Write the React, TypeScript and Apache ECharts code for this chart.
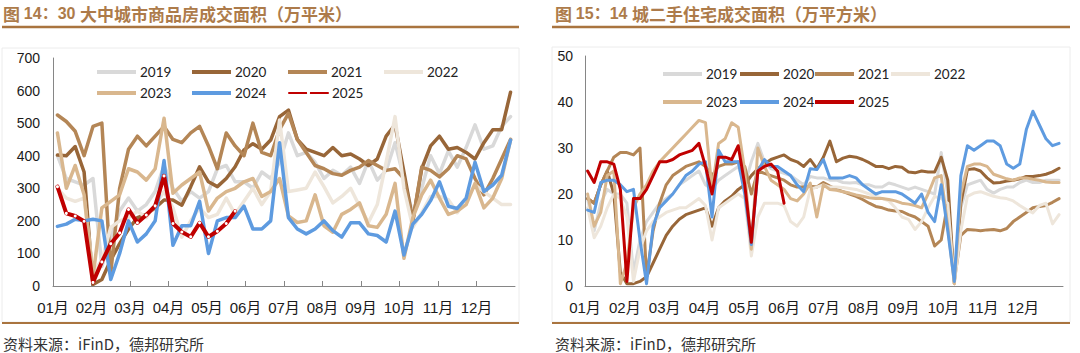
import React, { useEffect, useRef } from 'react';
import * as echarts from 'echarts';

// ---------- shared labels ----------
const MONTHS = ['01月', '02月', '03月', '04月', '05月', '06月', '07月', '08月', '09月', '10月', '11月', '12月'];
const YEARS = ['2019', '2020', '2021', '2022', '2023', '2024', '2025'];
const COLORS = ['#D9D9D9', '#986638', '#B48656', '#EEE6DB', '#D9B78E', '#5E9BE0', '#C00000'];

// ---------- left chart: 30 大中城市商品房成交面积（万平米），weekly ----------
const LEFT_TITLE = ['图 ', '14：30 ', '大中城市商品房成交面积（万平米）'];
const LEFT_Y_TICKS = [0, 700, 100];
const L2019 = [400, 330, 320, 310, 330, 60, 150, 230, 270, 230, 250, 290, 370, 300, 260, 290, 270, 290, 360, 370, 320, 320, 300, 350,
  330, 380, 470, 400, 410, 380, 330, 355, 340, 365, 315, 385, 325, 355, 440, 330, 220, 300, 400, 345, 415, 365, 425, 495, 420, 430, 490, 520];
const L2020 = [402, 400, 428, 350, 5, 20, 80, 130, 175, 210, 220, 240, 264, 264, 248, 305, 366, 320, 305, 330, 366, 418, 437, 420,
  448, 520, 540, 450, 420, 410, 400, 425, 400, 405, 390, 370, 390, 460, 495, 350, 200, 360, 430, 460, 420, 425, 410, 390, 440, 480, 480, 595];
const L2021 = [525, 505, 475, 400, 490, 500, 40, 300, 420, 460, 430, 460, 490, 450, 440, 470, 490, 430, 360, 470, 430, 400, 500, 410,
  400, 480, 530, 450, 410, 370, 360, 345, 340, 355, 365, 385, 370, 355, 360, 330, 200, 365, 355, 335, 360, 400, 390, 330, 280, 330, 390, 450];
const L2022 = [300, 270, 260, 270, 40, 80, 180, 200, 210, 230, 210, 250, 290, 240, 150, 200, 240, 210, 220, 270, 220, 260, 300, 250,
  290, 510, 290, 295, 300, 350, 305, 255, 275, 300, 245, 195, 250, 380, 520, 300, 180, 225, 275, 275, 265, 225, 265, 310, 290, 270, 250, 250];
const L2023 = [470, 300, 370, 280, 30, 240, 260, 280, 360, 350, 325, 360, 515, 285, 310, 330, 350, 230, 270, 290, 300, 320, 330, 275,
  290, 330, 215, 195, 200, 280, 185, 165, 220, 235, 255, 185, 180, 220, 315, 85, 210, 280, 325, 270, 220, 230, 250, 315, 240, 270, 330, 448];
const L2024 = [183, 190, 205, 200, 205, 200, 20, 100, 200, 135, 160, 200, 385, 125, 185, 185, 260, 100, 200, 210, 210, 245, 175, 175,
  200, 440, 210, 175, 160, 175, 200, 170, 150, 194, 194, 160, 155, 135, 230, 95, 190, 220, 262, 320, 245, 238, 270, 380, 290, 310, 340, 448];
const L2025 = [305, 223, 215, 199, 11, 74, 130, 163, 235, 194, 218, 246, 338, 192, 166, 151, 194, 151, 168, 192, 230];
const LEFT_DATA = [L2019, L2020, L2021, L2022, L2023, L2024, L2025];
const LEFT_STEPS = 52; // weeks per year

// ---------- right chart: 14 城二手住宅成交面积（万平方米），5-day steps ----------
const RIGHT_TITLE = ['图 ', '15：14 ', '城二手住宅成交面积（万平方米）'];
const RIGHT_Y_TICKS = [0, 50, 10];
const R2019 = [19, 12, 18, 21, 20, 20, 18, 3, 10, 14, 16, 18, 19, 20, 22, 23, 24, 25, 22, 21, 23, 24, 25, 26, 22, 27, 31, 27, 25.5, 25,
  24.5, 24, 23, 22, 23.8, 23.5, 23.5, 23, 23, 22.5, 22.4, 22.5, 22, 22, 21.5, 21.5, 22.4, 22, 21.5, 21, 21.5, 21, 20.5, 20, 29, 20, 1, 17, 22, 22.5,
  23, 21, 20.2, 21, 21.5, 21.5, 22.5, 23, 22.5, 22.5, 23, 23, 23];
const R2020 = [19, 18, 22, 25, 20, 3, 0.5, 0.5, 1, 2, 5, 8, 11, 13, 14.5, 15.5, 16, 16.5, 17, 13, 17, 18.5, 19.5, 21, 22, 24, 25.5, 26.5, 27.5, 28,
  28.5, 27.5, 27, 26, 27.5, 25.5, 28, 31.5, 27, 27.8, 28.2, 28, 27.5, 26.8, 26, 26, 25.5, 26, 25.8, 24.8, 24.6, 25, 24.8, 24.8, 28, 23, 0.5, 18, 25.3, 25.5,
  25, 23.5, 22.4, 22.5, 22.8, 23, 23.3, 23.8, 23.8, 24, 24.3, 24.8, 25.6];
const R2021 = [19, 18, 22, 25, 28, 29, 29, 28.5, 30, 2, 12, 18, 22, 24, 25, 26, 26.5, 27, 26, 24, 26, 26.5, 26.5, 27, 26, 20, 25, 24.5, 24, 23.5,
  23, 22, 21.5, 21.5, 21.7, 21.5, 22.5, 21.7, 21, 20.5, 20, 19.5, 18.8, 18, 17.3, 17, 16.5, 16.3, 16.2, 15.5, 15, 14, 13, 8.7, 10, 18, 1, 11, 12.3, 12.2,
  12, 12.2, 12.3, 12, 12.5, 14, 15, 16, 17, 17.3, 17.5, 18.2, 19];
const R2022 = [17, 10.5, 13, 17, 20, 19, 15, 1, 8, 12, 14, 15, 16, 16.5, 17, 17, 18, 19, 17.5, 10, 17, 18, 19, 20, 19, 6.5, 15, 18, 18, 18,
  17.5, 14, 13, 15, 21, 21.5, 22, 21.5, 21.5, 21.4, 21.2, 21, 20.5, 20, 19.6, 19, 18.5, 17, 15, 14.5, 12.3, 14, 17, 19.5, 19, 18, 0.5, 12, 19.5, 20.2,
  20.5, 20, 19.5, 19.2, 19, 18.5, 17.5, 16.6, 15.9, 17.5, 18, 13.5, 15.5];
const R2023 = [20, 13, 16, 24, 25, 0.5, 5, 17, 20, 22, 25, 27, 28.5, 30, 31.5, 33, 34.5, 36, 35.5, 21, 31, 32, 35.5, 34.5, 25, 8, 30, 26, 23, 22,
  21, 19, 18.5, 20, 22.4, 15, 22, 21, 20.8, 20.5, 20.2, 19.8, 19.5, 19.2, 19, 19, 18.8, 18.5, 18, 17.8, 17.5, 17, 20, 23.5, 24, 13, 0.5, 20, 26, 26.5,
  26.5, 26, 24.3, 23.8, 23.3, 23, 23.5, 23.5, 23.2, 23, 22.6, 22.5, 22.5];
const R2024 = [16.5, 16, 22.5, 23, 23, 22, 20.5, 21, 10, 0.5, 13, 17, 18.5, 20, 22, 24, 25, 26.5, 27, 15, 29.5, 27, 27, 27, 20, 9, 25, 27.5, 26, 26,
  25, 24, 22, 20.5, 25.5, 25.3, 27.5, 23.5, 23.5, 23.5, 24, 23.5, 22, 21, 20, 20.5, 20.5, 20.5, 20, 19, 18, 20, 16, 14, 22, 12, 1, 24, 30.5, 29.5,
  30.5, 31.5, 31.5, 30.5, 26.5, 25.6, 26.5, 34, 38, 35, 32, 30.5, 31];
const R2025 = [25, 22.5, 27, 27, 26.5, 21, 1, 19, 19, 21, 24, 27, 27, 27.5, 28.5, 29, 29.5, 31, 26, 20, 28, 28, 27.5, 30.5, 22, 9.5, 25, 26, 26.5, 25, 18];
const RIGHT_DATA = [R2019, R2020, R2021, R2022, R2023, R2024, R2025];
const RIGHT_STEP_DAYS = 5;

const SOURCE = '资料来源：iFinD，德邦研究所';

type Layout = {
  titleX: number;
  ruleX1: number;
  ruleX2: number;
  box: [number, number, number, number];
  grid: { left: number; top: number; width: number; height: number };
  legendX: number[];
  legendY: number[];
  lineWidth: number;
  xTicks: boolean;
  yLabelMargin: number;
};

const FONT_NUM = 'Liberation Sans, Arial, Noto Sans CJK SC, sans-serif';
const FONT_CJK = 'Noto Sans CJK SC, sans-serif';
const TITLE_COLOR = '#AD7B4A';
const RULE_COLOR = '#A9743F';

function buildOption(
  title: string[],
  yTicks: number[],
  seriesData: number[][],
  toX: (i: number) => number,
  layout: Layout,
  markerLast: boolean
): echarts.EChartsOption {
  const series: any[] = seriesData.map((arr, s) => {
    const isMarked = markerLast && s === seriesData.length - 1;
    return {
      type: 'line',
      name: YEARS[s],
      data: arr.map((v, i) => [toX(i), v]),
      symbol: isMarked ? 'circle' : 'none',
      symbolSize: 3,
      showSymbol: isMarked,
      lineStyle: { width: isMarked ? 4 : layout.lineWidth, color: COLORS[s], cap: 'round', join: 'round' },
      itemStyle: isMarked ? { color: '#FFFFFF', borderWidth: 0 } : { color: COLORS[s] },
      z: 2 + s,
      silent: true,
    };
  });

  const legends: any[] = YEARS.map((name, idx) => {
    const col = idx % 4;
    const row = Math.floor(idx / 4);
    const isMarked = markerLast && idx === YEARS.length - 1;
    return {
      data: [isMarked ? { name } : { name, icon: 'rect' }],
      left: layout.legendX[col],
      top: layout.legendY[row] - 8,
      itemWidth: 39,
      itemHeight: 4,
      padding: 0,
      selectedMode: false,
      textStyle: { fontFamily: 'Lato, Carlito, sans-serif', fontSize: 13.5, color: '#222222', padding: [0, 0, 0, -1] },
    };
  });

  const [bx, by, bw, bh] = layout.box;

  return {
    animation: false,
    title: {
      text: `{a|${title[0]}}{b|${title[1]}}{a|${title[2]}}`,
      left: layout.titleX,
      top: 3,
      padding: 0,
      textStyle: {
        rich: {
          a: { fontFamily: FONT_CJK, fontSize: 17, lineHeight: 20, color: TITLE_COLOR },
          b: { fontFamily: FONT_NUM, fontSize: 16, lineHeight: 20, fontWeight: 'bold', color: TITLE_COLOR },
        },
      },
    },
    legend: legends,
    grid: { ...layout.grid, containLabel: false },
    xAxis: {
      type: 'value',
      min: 0,
      max: 12,
      interval: 1,
      axisLine: { show: true, lineStyle: { color: '#868686', width: 1 } },
      axisTick: { show: layout.xTicks, inside: true, length: 5, lineStyle: { color: '#868686' } },
      splitLine: { show: false },
      axisLabel: {
        margin: 14,
        fontFamily: FONT_NUM,
        fontSize: 15,
        color: '#1A1A1A',
        showMaxLabel: false,
        formatter: (v: number) => (v < 12 ? MONTHS[Math.round(v)] : ''),
      },
    },
    yAxis: {
      type: 'value',
      min: yTicks[0],
      max: yTicks[1],
      interval: yTicks[2],
      axisLine: { show: true, lineStyle: { color: '#868686', width: 1 } },
      axisTick: { show: false },
      splitLine: { show: false },
      axisLabel: { margin: layout.yLabelMargin, fontFamily: FONT_NUM, fontSize: 14, color: '#1A1A1A' },
    },
    graphic: [
      {
        type: 'rect',
        shape: { x: bx, y: by, width: bw, height: bh },
        style: { fill: 'none', stroke: '#ECECEC', lineWidth: 1 },
        silent: true,
        z: -1,
      },
      {
        type: 'line',
        shape: { x1: layout.ruleX1, y1: 27, x2: layout.ruleX2, y2: 27 },
        style: { stroke: RULE_COLOR, lineWidth: 2.5 },
        silent: true,
      },
      {
        type: 'line',
        shape: { x1: layout.ruleX1, y1: 323, x2: layout.ruleX2, y2: 323 },
        style: { stroke: RULE_COLOR, lineWidth: 2 },
        silent: true,
      },
      {
        type: 'text',
        x: layout.titleX,
        y: 343,
        style: {
          text: SOURCE,
          fontFamily: FONT_CJK,
          fontSize: 15,
          fill: '#333333',
          verticalAlign: 'middle',
        },
        silent: true,
      },
    ],
    series,
  };
}

const LEFT_LAYOUT: Layout = {
  titleX: 3,
  ruleX1: 2,
  ruleX2: 519,
  box: [2, 48, 517, 274],
  grid: { left: 53, top: 58, width: 462, height: 228 },
  legendX: [97, 192, 288, 384],
  legendY: [73, 94],
  lineWidth: 3.5,
  xTicks: true,
  yLabelMargin: 13,
};

const RIGHT_LAYOUT: Layout = {
  titleX: 15,
  ruleX1: 12,
  ruleX2: 530,
  box: [12, 47, 518, 275],
  grid: { left: 45, top: 56, width: 478, height: 230 },
  legendX: [123, 200, 275, 351],
  legendY: [75, 103],
  lineWidth: 3,
  xTicks: false,
  yLabelMargin: 12,
};

function Chart({ option, left }: { option: echarts.EChartsOption; left: number }) {
  const ref = useRef<HTMLDivElement | null>(null);
  useEffect(() => {
    if (!ref.current) return;
    const chart = echarts.init(ref.current, undefined, { renderer: 'svg' });
    chart.setOption(option);
    return () => chart.dispose();
  }, [option]);
  return (
    <div
      ref={ref}
      style={{ position: 'absolute', left, top: 0, width: 540, height: 353, background: '#FFFFFF' }}
    />
  );
}

const leftOption = buildOption(
  LEFT_TITLE,
  LEFT_Y_TICKS,
  LEFT_DATA,
  (i) => ((i + 0.5) * 12) / LEFT_STEPS,
  LEFT_LAYOUT,
  true
);
const rightOption = buildOption(
  RIGHT_TITLE,
  RIGHT_Y_TICKS,
  RIGHT_DATA,
  (i) => ((i * RIGHT_STEP_DAYS + 2) * 12) / 365,
  RIGHT_LAYOUT,
  false
);

export default function App() {
  return (
    <div style={{ position: 'absolute', left: 0, top: 0, width: 1080, height: 353, background: '#FFFFFF' }}>
      <Chart option={leftOption} left={0} />
      <Chart option={rightOption} left={540} />
    </div>
  );
}
